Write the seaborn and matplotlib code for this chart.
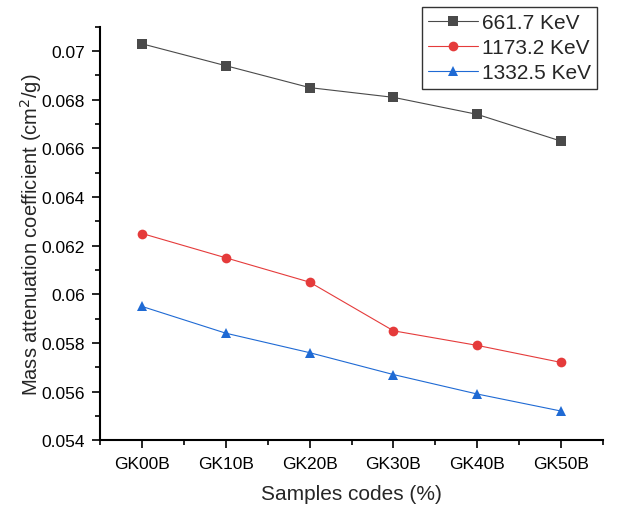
import matplotlib
matplotlib.use("Agg")
import matplotlib.pyplot as plt
import seaborn as sns
import pandas as pd
from matplotlib.ticker import MultipleLocator, FixedLocator, FixedFormatter

samples = ["GK00B", "GK10B", "GK20B", "GK30B", "GK40B", "GK50B"]
series_names = ["661.7 KeV", "1173.2 KeV", "1332.5 KeV"]
e661 = [0.0703, 0.0694, 0.0685, 0.0681, 0.0674, 0.0663]
e1173 = [0.0625, 0.0615, 0.0605, 0.0585, 0.0579, 0.0572]
e1332 = [0.0595, 0.0584, 0.0576, 0.0567, 0.0559, 0.0552]
y_ticks = [0.054, 0.056, 0.058, 0.06, 0.062, 0.064, 0.066, 0.068, 0.07]
y_tick_labels = ["0.054", "0.056", "0.058", "0.06", "0.062", "0.064", "0.066", "0.068", "0.07"]

rows = []
for name, vals in zip(series_names, [e661, e1173, e1332]):
    for i, (s, v) in enumerate(zip(samples, vals)):
        rows.append({"idx": i, "sample": s, "value": v, "series": name})
df = pd.DataFrame(rows)

sns.set_style("ticks")
plt.rcParams["font.family"] = ["Liberation Sans", "DejaVu Sans"]

fig = plt.figure(figsize=(6.19, 5.06), dpi=100)
ax = fig.add_axes([0.162, 0.128, 0.812, 0.817])

colors = {"661.7 KeV": "#4a4a4a", "1173.2 KeV": "#e53b3b", "1332.5 KeV": "#1f6ad4"}
markers = {"661.7 KeV": "s", "1173.2 KeV": "o", "1332.5 KeV": "^"}
sns.lineplot(data=df, x="idx", y="value", hue="series", style="series",
             palette=colors, markers=markers, dashes=False, markersize=7,
             linewidth=0.8, markeredgewidth=0, ax=ax)

ax.set_xlim(-0.5, 5.5)
ax.set_ylim(0.054, 0.071)
ax.xaxis.set_major_locator(FixedLocator(range(len(samples))))
ax.xaxis.set_major_formatter(FixedFormatter(samples))
ax.xaxis.set_minor_locator(MultipleLocator(0.5))
ax.yaxis.set_major_locator(FixedLocator(y_ticks))
ax.yaxis.set_major_formatter(FixedFormatter(y_tick_labels))
ax.yaxis.set_minor_locator(MultipleLocator(0.001))
ax.tick_params(axis="both", which="major", length=6, width=1.2, labelsize=12.5, color="black", labelcolor="black", direction="out", pad=5)
ax.tick_params(axis="both", which="minor", length=3.5, width=1.2, color="black", direction="out")
for sp in ["left", "bottom"]:
    ax.spines[sp].set_linewidth(1.5)
    ax.spines[sp].set_color("black")
sns.despine(ax=ax)

ax.set_xlabel("Samples codes (%)", fontsize=15, labelpad=10)
ax.set_ylabel("Mass attenuation coefficient (cm$^2$/g)", fontsize=14.5, labelpad=-2)

handles, labels = ax.get_legend_handles_labels()
leg = ax.legend(handles, labels, loc="upper right", bbox_to_anchor=(0.965, 0.985),
                bbox_transform=fig.transFigure, fontsize=15, frameon=True,
                fancybox=False, edgecolor="black", handlelength=2.4,
                handletextpad=0.2, borderpad=0.3, labelspacing=0.3, borderaxespad=0)
leg.get_frame().set_linewidth(1.0)

fig.savefig("out.png", dpi=100, facecolor="white")
